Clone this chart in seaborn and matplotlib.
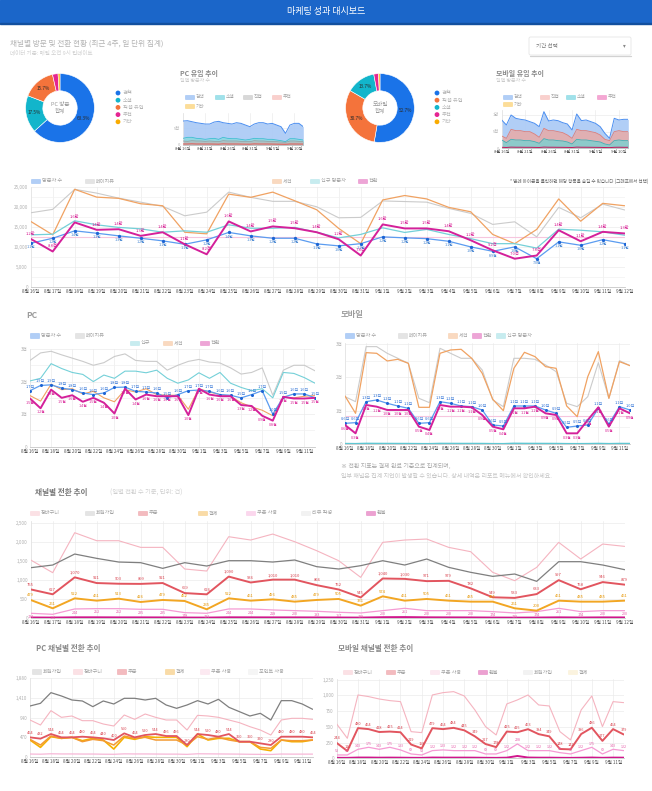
import numpy as np
import pandas as pd
import matplotlib
matplotlib.use("Agg")
import matplotlib.pyplot as plt
import seaborn as sns
from matplotlib.patches import Rectangle, FancyBboxPatch, Circle

sns.set_theme(style="white")
plt.rcParams["font.family"] = ["Noto Sans CJK KR", "DejaVu Sans"]
plt.rcParams["axes.unicode_minus"] = False

# ---------------- data ----------------
dates = ["8월 16일", "8월 17일", "8월 18일", "8월 19일", "8월 20일", "8월 21일", "8월 22일",
         "8월 23일", "8월 24일", "8월 25일", "8월 26일", "8월 27일", "8월 28일", "8월 29일",
         "8월 30일", "8월 31일", "9월 1일", "9월 2일", "9월 3일", "9월 4일", "9월 5일",
         "9월 6일", "9월 7일", "9월 8일", "9월 9일", "9월 10일", "9월 11일", "9월 12일"]

pc_share_labels = ["검색", "소셜", "직접 유입", "추천", "기타"]
pc_share = [63.3, 17.5, 15.7, 2.6, 0.9]
mo_share_labels = ["검색", "직접 유입", "소셜", "추천", "기타"]
mo_share = [52.7, 30.7, 13.7, 2.2, 0.7]

pc_area_total = [7200, 7300, 7000, 6700, 6500, 6300, 6300, 6900, 7100, 6700, 6500, 6300, 6700, 6500,
                 6000, 5500, 6300, 6700, 6700, 6300, 6500, 6000, 5500, 3500, 6000, 6500, 6500, 5500]
pc_area_social = [2000, 2300, 2300, 2000, 1900, 1700, 1900, 2000, 1700, 2300, 2000, 1900, 1900, 1700,
                  1500, 1700, 2000, 1900, 1900, 1700, 1700, 1500, 1300, 1000, 1900, 1900, 1700, 1500]
pc_area_direct = [1200, 1100, 1300, 1200, 1200, 1100, 1200, 1100, 1000, 1300, 1200, 1200, 1200, 1100,
                  1000, 1000, 1300, 1200, 1200, 1100, 1100, 1000, 900, 800, 1200, 1200, 1100, 1000]
pc_area_ref = [300, 300, 350, 300, 300, 300, 300, 280, 250, 350, 300, 300, 300, 280,
               260, 250, 330, 300, 300, 300, 280, 260, 240, 220, 300, 300, 290, 280]

mo_area_total = [8500, 7000, 10000, 9000, 8700, 8500, 8000, 7500, 6500, 11000, 8200, 8500, 8300, 7700,
                 7300, 5500, 10300, 8300, 8500, 8000, 7500, 6500, 4500, 3000, 9000, 8500, 8700, 8700]
mo_area_direct = [3700, 3000, 5700, 5300, 5300, 5000, 5000, 4300, 3300, 6000, 5300, 5300, 5000, 4700,
                  4000, 3000, 5700, 5300, 5300, 5000, 4700, 4000, 2700, 2300, 5000, 5300, 5000, 5000]
mo_area_social = [2500, 1700, 2700, 2500, 2500, 2300, 2300, 2000, 1500, 2900, 2500, 2500, 2300, 2200,
                  1900, 1300, 2700, 2500, 2500, 2300, 2100, 1900, 1300, 1000, 2300, 2500, 2300, 2300]
mo_area_ref = [300, 250, 350, 320, 320, 300, 300, 280, 250, 360, 320, 320, 300, 290,
               270, 240, 350, 320, 320, 300, 290, 270, 230, 200, 300, 320, 300, 300]

all_pageviews = [18500, 19350, 24350, 23400, 22150, 21150, 20100, 17750, 18650, 23650, 22350, 21350, 21350, 20000,
                 17250, 17350, 21450, 21300, 21150, 19600, 18350, 15600, 16250, 12500, 19850, 17250, 20650, 19200]
all_sessions = [16350, 13000, 24350, 22400, 22100, 20750, 20250, 13650, 13250, 23150, 22350, 23650, 21500, 19250,
                14600, 10800, 21700, 22800, 21950, 19850, 18750, 13100, 10800, 14350, 21950, 16400, 20850, 20250]
all_new = [13000, 13150, 16500, 15500, 14850, 14500, 13650, 14000, 13650, 15500, 14650, 14650, 14850, 13650,
           12250, 13100, 14750, 13600, 14350, 13100, 12050, 10800, 10800, 9700, 14400, 14150, 13750, 12900]
all_conv = [12000, 8850, 16100, 14250, 14400, 12750, 13650, 10650, 8150, 16350, 13850, 15100, 14650, 13650,
            11900, 7850, 15600, 14600, 14600, 13900, 11650, 9150, 7050, 7850, 14150, 11400, 13750, 13350]
all_visitors = [10900, 12150, 14000, 13400, 12750, 12150, 11500, 10650, 11750, 13600, 12750, 12150, 12150, 10750,
                10250, 10800, 12500, 12250, 12050, 11400, 10000, 8900, 10000, 7050, 11250, 10400, 11800, 10800]

pc_pageviews = [2650, 2880, 2930, 2820, 2720, 2620, 2500, 2580, 2770, 2850, 2650, 2620, 2620, 2350,
                2500, 2620, 2680, 2600, 2570, 2420, 2230, 2280, 2420, 1580, 2350, 2500, 2500, 2330]
pc_new = [2020, 2100, 2550, 2400, 2280, 2220, 2000, 2200, 2100, 2320, 2320, 2270, 2350, 2100,
          1950, 2050, 2270, 2100, 2280, 1950, 1820, 1720, 1780, 1500, 2280, 2250, 2120, 1950]
pc_visitors = [1720, 1880, 1900, 1800, 1750, 1650, 1600, 1650, 1820, 1830, 1700, 1680, 1650, 1500,
               1600, 1720, 1740, 1700, 1600, 1580, 1500, 1600, 1720, 1000, 1520, 1620, 1620, 1500]
pc_sessions = [1570, 1400, 1920, 1750, 1780, 1620, 1700, 1500, 1380, 1750, 1680, 1780, 1600, 1580,
               1580, 1150, 1780, 1680, 1600, 1550, 1350, 1220, 1120, 950, 1520, 1500, 1550, 1570]
pc_conv = [1480, 1180, 1750, 1500, 1580, 1380, 1500, 1350, 1020, 1780, 1450, 1600, 1550, 1550,
           1550, 970, 1780, 1600, 1550, 1550, 1280, 1250, 950, 800, 1530, 1480, 1480, 1500]

mo_pageviews = [1420, 1270, 2920, 2920, 2720, 2570, 2420, 1370, 1240, 2870, 2720, 2570, 2570, 2220,
                1320, 1120, 2570, 2570, 2540, 2370, 2170, 1220, 1120, 1420, 2440, 1370, 2500, 2350]
mo_sessions = [1440, 920, 2740, 2720, 2490, 2540, 2420, 1100, 1100, 2720, 2820, 2840, 2570, 2120,
               1340, 1000, 2270, 2750, 2620, 2320, 2270, 1140, 820, 2020, 2770, 1370, 2470, 2350]
mo_visitors = [620, 640, 1270, 1320, 1220, 1140, 1070, 620, 640, 1270, 1220, 1140, 1120, 1020,
               570, 540, 1140, 1140, 1140, 1020, 920, 500, 540, 570, 1070, 600, 1120, 1020]
mo_conv = [570, 320, 1170, 1120, 1020, 1020, 1020, 520, 420, 1170, 1120, 1120, 1100, 870,
           520, 440, 1070, 1070, 1120, 920, 870, 320, 320, 720, 1100, 520, 1070, 920]
mo_new = [15, 12, 20, 18, 17, 16, 15, 12, 11, 19, 18, 17, 17, 16,
          12, 11, 22, 19, 18, 17, 16, 12, 11, 13, 18, 12, 17, 16]

ch_cart = [1523, 1192, 2236, 2027, 2027, 1853, 1853, 1288, 1235, 2132, 2045, 2201, 2001, 1766,
           1505, 1070, 1984, 2045, 2071, 1853, 1740, 1201, 983, 1331, 1984, 1549, 1940, 1879]
ch_signup = [1322, 1392, 1679, 1566, 1470, 1453, 1305, 1453, 1366, 1505, 1505, 1470, 1523, 1349,
             1288, 1375, 1505, 1392, 1549, 1331, 1201, 1096, 1157, 966, 1479, 1479, 1392, 1270]
ch_order = [755, 627, 1070, 921, 903, 899, 921, 659, 626, 1090, 936, 1010, 1010, 866,
            752, 545, 1040, 1030, 971, 979, 782, 549, 533, 633, 997, 758, 946, 879]
ch_pay = [479, 261, 522, 461, 513, 426, 479, 452, 235, 522, 461, 496, 435, 479,
          505, 331, 574, 461, 505, 461, 435, 435, 261, 200, 461, 435, 435, 461]
ch_coupon = [131, 104, 244, 252, 252, 235, 235, 148, 131, 244, 244, 218, 200, 183,
             157, 139, 200, 261, 200, 200, 200, 174, 139, 174, 261, 174, 200, 200]
ch_refund = [18, 15, 22, 22, 20, 20, 19, 16, 15, 22, 21, 20, 20, 19,
             17, 15, 25, 28, 22, 20, 19, 16, 14, 16, 21, 17, 20, 19]

pcc_signup = [1216, 1280, 1536, 1456, 1360, 1336, 1200, 1336, 1264, 1400, 1400, 1360, 1400, 1240,
              1160, 1240, 1344, 1264, 1376, 1184, 1080, 976, 1040, 880, 1344, 1344, 1264, 1136]
pcc_cart = [880, 760, 1104, 944, 976, 864, 864, 784, 736, 1000, 896, 1024, 944, 880,
            880, 640, 992, 976, 944, 880, 816, 720, 640, 520, 880, 920, 920, 896]
pcc_order = [464, 432, 544, 464, 464, 480, 464, 440, 400, 560, 464, 520, 544, 496,
             496, 280, 544, 520, 480, 544, 360, 360, 320, 280, 480, 480, 480, 464]
pcc_pay = [416, 280, 496, 440, 464, 360, 416, 384, 280, 496, 440, 464, 400, 400,
           400, 280, 480, 416, 464, 400, 360, 360, 224, 200, 400, 384, 384, 400]
pcc_point = [400, 224, 480, 440, 464, 384, 440, 400, 184, 464, 416, 480, 464, 464,
             464, 240, 544, 400, 440, 440, 360, 360, 184, 144, 400, 360, 360, 400]
pcc_coupon = [64, 60, 70, 66, 66, 64, 64, 60, 58, 68, 66, 66, 64, 62,
              62, 56, 70, 68, 66, 64, 62, 58, 56, 54, 64, 62, 62, 62]

moc_cart = [546, 318, 1007, 981, 943, 917, 901, 424, 408, 1007, 1044, 1060, 991, 769,
            504, 371, 864, 928, 1007, 848, 832, 424, 292, 769, 991, 504, 901, 885]
moc_order = [244, 116, 480, 464, 418, 425, 414, 219, 158, 479, 464, 484, 445, 349,
             227, 178, 425, 415, 463, 384, 349, 148, 142, 386, 486, 277, 464, 379]
moc_coupon = [53, 53, 143, 175, 143, 175, 133, 69, 53, 122, 133, 122, 122, 122,
              69, 69, 122, 228, 122, 122, 122, 90, 69, 122, 175, 69, 143, 122]
moc_refund = [8, 7, 12, 12, 10, 11, 10, 8, 7, 12, 11, 11, 11, 10,
              8, 7, 10, 37, 12, 10, 10, 8, 7, 9, 12, 8, 11, 10]

# ---------------- colours ----------------
BLUE, CYAN, ORANGE, MAGENTA, GOLD = "#1a73e8", "#12b5cb", "#f4733b", "#e52592", "#f9ab00"
L_BLUE, L_GRAY, L_ORANGE, L_CYAN, L_MAG = "#3d86ea", "#cbcbcb", "#f0a262", "#74d0d8", "#d4209a"
R_PINK, R_GRAY, R_RED, R_ORANGE, R_PINK2, R_MAG = "#f5b4c0", "#7f7f7f", "#e2555f", "#f2a623", "#f59bd3", "#d0168c"

W, H = 652, 791
fig = plt.figure(figsize=(W / 100, H / 100), dpi=100)
fig.patch.set_facecolor("white")
ov = fig.add_axes([0, 0, 1, 1])
ov.set_xlim(0, W)
ov.set_ylim(H, 0)
ov.axis("off")
ov.set_zorder(0)

idx = np.arange(len(dates))


def ax_px(x0, y0, x1, y1):
    a = fig.add_axes([x0 / W, 1 - y1 / H, (x1 - x0) / W, (y1 - y0) / H])
    a.set_zorder(2)
    a.patch.set_alpha(0)
    return a


def legend(items, y, fs=3.7):
    for x, color, label in items:
        ov.add_patch(Rectangle((x, y - 2.4), 9, 4.8, facecolor=color, edgecolor=color, lw=0.4, alpha=0.4))
        ov.text(x + 11, y, label, fontsize=fs, color="#a3a3a3", va="center", ha="left")


def style(ax, ymax, yticks, ylabels, xstep, vstep=1, fs=3.3):
    ax.set_xlim(0, len(dates) - 1)
    ax.set_ylim(0, ymax)
    ax.set_xticks(range(0, len(dates), xstep))
    ax.set_xticklabels(dates[::xstep])
    ax.set_xticks(range(0, len(dates), vstep), minor=True)
    ax.set_yticks(yticks)
    ax.set_yticklabels(ylabels)
    ax.tick_params(axis="x", which="both", length=0, labelsize=fs, colors="#555555", pad=1.5)
    ax.tick_params(axis="y", length=0, labelsize=fs, colors="#b0b0b0", pad=2)
    ax.grid(True, axis="x", which="both", color="#ebebeb", lw=0.5)
    ax.grid(True, axis="y", which="major", color="#ebebeb", lw=0.5)
    for s in ["top", "right"]:
        ax.spines[s].set_visible(False)
    ax.spines["left"].set_color("#e2e2e2")
    ax.spines["left"].set_linewidth(0.5)
    ax.spines["bottom"].set_color("#c6c6c6")
    ax.spines["bottom"].set_linewidth(0.6)
    ax.set_xlabel("")
    ax.set_ylabel("")
    ax.set_axisbelow(True)


def line(ax, y, color, lw=0.8, marker=None, ms=0, mc=None, z=3):
    sns.lineplot(x=idx, y=y, ax=ax, color=color, linewidth=lw, marker=marker, markersize=ms,
                 markeredgewidth=0, markerfacecolor=mc or color, zorder=z, legend=False)


def labels(ax, y, fmt, color, dy=2.2, fs=3.0, va=None):
    if va is None:
        va = "bottom" if dy > 0 else ("top" if dy < 0 else "center")
    for i, v in enumerate(y):
        ax.annotate(fmt(v), (i, v), xytext=(0, dy), textcoords="offset points", ha="center",
                    va=va, fontsize=fs, color=color, zorder=6)


man = lambda v: f"{v / 10000:.1f}만" if v >= 10000 else f"{v / 1000:.1f}천"
chun = lambda v: f"{v / 1000:.1f}천"
num = lambda v: f"{v:,.0f}"

# ---------------- header ----------------
ov.add_patch(Rectangle((0, 0), W, 23, color="#1b66c9"))
ov.add_patch(Rectangle((0, 23), W, 1.2, color="#124f9e"))
ov.text(W / 2, 11.5, "마케팅 성과 대시보드", color="white", fontsize=6.5, ha="center", va="center")
ov.text(10, 44, "채널별 방문 및 전환 현황 (최근 4주, 일 단위 집계)", fontsize=5.5, color="#b3b3b3", va="center")
ov.text(10, 52.5, "데이터 기준: 매일 오전 9시 업데이트", fontsize=4, color="#d0d0d0", va="center")
ov.add_patch(FancyBboxPatch((529, 37), 102, 18, boxstyle="round,pad=0,rounding_size=1.5",
                            facecolor="white", edgecolor="#e6e6e6", lw=0.6))
ov.plot([529.5, 630.5], [55.6, 55.6], color="#d2d2d2", lw=0.9)
ov.text(536, 46, "기간 선택", fontsize=4, color="#777777", va="center")
ov.text(624, 46, "▾", fontsize=4, color="#888888", va="center", ha="center")

# ---------------- row 1: donuts + area ----------------
def donut(x0, y0, x1, y1, shares, colors, names, legx, center):
    a = ax_px(x0, y0, x1, y1)
    a.pie(shares, colors=colors, startangle=90, counterclock=False,
          wedgeprops=dict(width=0.5, edgecolor="white", linewidth=0.4),
          autopct=lambda p: f"{p:.1f}%" if p > 5 else "", pctdistance=0.75,
          textprops=dict(fontsize=3.4, color="#2b2b2b"))
    a.set_aspect("equal")
    a.text(0, 0, center, ha="center", va="center", fontsize=4, color="#9a9a9a")
    for k, (c, n) in enumerate(zip(colors, names)):
        yy = 93 + k * 7.2
        ov.add_patch(Circle((legx, yy), 1.7, color=c))
        ov.text(legx + 5, yy, n, fontsize=3.8, color="#b5b5b5", va="center")


donut(17, 65, 103, 151, pc_share, [BLUE, CYAN, ORANGE, MAGENTA, GOLD], pc_share_labels, 118, "PC 방문\n합계")
donut(337, 65, 423, 151, mo_share, [BLUE, ORANGE, CYAN, MAGENTA, GOLD], mo_share_labels, 437, "모바일\n합계")

ov.text(180, 73.5, "PC 유입 추이", fontsize=5, color="#8a8a8a", va="center", weight="bold")
ov.text(180, 80.5, "일별 방문자 수", fontsize=3.6, color="#cccccc", va="center")
legend([(185, L_BLUE, "검색"), (215, CYAN, "소셜"), (243, "#9e9e9e", "직접"), (272, "#f28b82", "추천")], 97, fs=3.4)
legend([(185, GOLD, "기타")], 106, fs=3.4)
a = ax_px(183, 112.7, 303.3, 145)
a.fill_between(idx, 0, pc_area_total, color="#a9c9f6", alpha=0.9, lw=0)
line(a, pc_area_total, "#4a8ef0", lw=0.7)
a.fill_between(idx, 0, pc_area_social, color="#8fd9df", alpha=0.9, lw=0)
line(a, pc_area_social, "#3cc0cf", lw=0.6)
a.fill_between(idx, 0, pc_area_direct, color="#b9b9b9", alpha=0.8, lw=0)
line(a, pc_area_direct, "#9a9a9a", lw=0.5)
line(a, pc_area_ref, "#e8554e", lw=0.7)
style(a, 9700, [0, 5000], ["0", "5천"], 5, 5, fs=3.0)

ov.text(496, 73.5, "모바일 유입 추이", fontsize=5, color="#8a8a8a", va="center", weight="bold")
ov.text(496, 80.5, "일별 방문자 수", fontsize=3.6, color="#cccccc", va="center")
legend([(503, L_BLUE, "검색"), (540, "#f28b82", "직접"), (566, CYAN, "소셜"), (597, MAGENTA, "추천")], 97, fs=3.4)
legend([(503, GOLD, "기타")], 104, fs=3.4)
a = ax_px(501.7, 110, 628.3, 148.3)
a.fill_between(idx, 0, mo_area_total, color="#a9c9f6", alpha=0.9, lw=0)
line(a, mo_area_total, "#4a8ef0", lw=0.7)
a.fill_between(idx, 0, mo_area_direct, color="#e9aaa6", alpha=0.85, lw=0)
line(a, mo_area_direct, "#e07d76", lw=0.6)
a.fill_between(idx, 0, mo_area_social, color="#7fcfcf", alpha=0.85, lw=0)
line(a, mo_area_social, "#3bb3b8", lw=0.6)
line(a, mo_area_ref, "#c2185b", lw=0.7)
style(a, 11500, [0, 5000, 10000], ["0", "5천", "1만"], 5, 5, fs=3.0)

# ---------------- row 2: big chart ----------------
legend([(31, L_BLUE, "방문자 수"), (85, "#bdbdbd", "페이지뷰"), (272, L_ORANGE, "세션"),
        (310, L_CYAN, "신규 방문자"), (358, L_MAG, "전환")], 181)
ov.text(648, 181, "* 범례 아이콘을 클릭하면 해당 항목을 숨길 수 있습니다 (그래프에서 선택)",
        fontsize=3.3, color="#666666", va="center", ha="right")
a = ax_px(30.7, 186.7, 624.7, 287)
a.axhline(np.mean(all_conv), color="#f6c6de", lw=0.8, zorder=1)
line(a, all_pageviews, L_GRAY, lw=0.8)
line(a, all_sessions, L_ORANGE, lw=0.9)
line(a, all_new, L_CYAN, lw=0.9)
line(a, all_visitors, "#5b9cf0", lw=0.9, marker="o", ms=2.4, mc="#1c64d4")
line(a, all_conv, L_MAG, lw=1.4, z=4)
labels(a, all_conv, man, "#d81b93", dy=2.2)
labels(a, all_visitors, man, "#3a7fd0", dy=-1.6, fs=2.7)
style(a, 25000, [0, 5000, 10000, 15000, 20000, 25000], ["0", "5,000", "10,000", "15,000", "20,000", "25,000"], 1)
a.set_yticks([2500, 7500, 12500, 17500, 22500], minor=True)
a.grid(True, axis="y", which="minor", color="#f1f1f1", lw=0.5)

# ---------------- row 3 ----------------
ov.text(26, 315, "PC", fontsize=6, color="#9c9c9c", va="center", weight="bold")
legend([(30, L_BLUE, "방문자 수"), (75, "#bdbdbd", "페이지뷰")], 335.5)
legend([(130, L_CYAN, "신규"), (163, L_ORANGE, "세션"), (200, L_MAG, "전환")], 343)
a = ax_px(30, 349, 315, 446.7)
line(a, pc_pageviews, L_GRAY, lw=0.8)
line(a, pc_new, L_CYAN, lw=0.8)
line(a, pc_sessions, L_ORANGE, lw=0.8)
line(a, pc_visitors, "#5b9cf0", lw=0.9, marker="o", ms=2.2, mc="#1c64d4")
line(a, pc_conv, L_MAG, lw=1.4, z=4)
labels(a, pc_visitors, chun, "#2a6fd6", dy=1.5, fs=2.8)
labels(a, pc_conv, chun, "#d81b93", dy=-1.6, fs=2.7)
style(a, 3000, [0, 1000, 2000, 3000], ["0", "1천", "2천", "3천"], 2, 2)
a.set_yticks([500, 1500, 2500], minor=True)
a.grid(True, axis="y", which="minor", color="#f0f0f0", lw=0.5)

ov.text(341, 315, "모바일", fontsize=6, color="#9c9c9c", va="center", weight="bold")
legend([(345, L_BLUE, "방문자 수"), (398, "#bdbdbd", "페이지뷰"), (448, L_ORANGE, "세션"),
        (472, L_MAG, "전환"), (496, L_CYAN, "신규 방문자")], 335.5)
a = ax_px(345, 343.3, 630, 444)
a.axhline(np.mean(mo_conv), color="#f6c6de", lw=0.8, zorder=1)
line(a, mo_pageviews, L_GRAY, lw=0.8)
line(a, mo_sessions, L_ORANGE, lw=0.9)
line(a, mo_new, "#5fc7d2", lw=1.0)
line(a, mo_visitors, "#5b9cf0", lw=0.9, marker="o", ms=2.2, mc="#1c64d4")
line(a, mo_conv, L_MAG, lw=1.4, z=4)
labels(a, mo_visitors, chun, "#2a6fd6", dy=1.5, fs=2.8)
labels(a, mo_conv, chun, "#d81b93", dy=-1.6, fs=2.7)
style(a, 3020, [0, 1000, 2000, 3000], ["0", "1천", "2천", "3천"], 2, 2)
a.set_yticks([500, 1500, 2500], minor=True)
a.grid(True, axis="y", which="minor", color="#f0f0f0", lw=0.5)

# ---------------- row 4 ----------------
ov.text(341, 466, "※ 전환 지표는 결제 완료 기준으로 집계되며,", fontsize=4.3, color="#a9a9a9", va="center")
ov.text(341, 476, "일부 채널은 집계 지연이 발생할 수 있습니다. 상세 내역은 리포트 메뉴에서 확인하세요.",
        fontsize=4.3, color="#c4c4c4", va="center")
ov.text(35, 493, "채널별 전환 추이", fontsize=5.5, color="#7a7a7a", va="center", weight="bold")
ov.text(110, 493, "(일별 전환 수 기준, 단위: 건)", fontsize=4.5, color="#cfcfcf", va="center")
legend([(30, R_PINK, "장바구니"), (85, "#bdbdbd", "회원가입"), (138, R_RED, "주문"),
        (198, R_ORANGE, "결제"), (246, R_PINK2, "쿠폰 사용"), (301, "#e0e0e0", "리뷰 작성"),
        (366, R_MAG, "환불")], 513)
a = ax_px(30.7, 520.7, 624.7, 618.3)
line(a, ch_cart, R_PINK, lw=0.8)
line(a, ch_signup, R_GRAY, lw=0.9)
line(a, ch_order, R_RED, lw=1.4, z=4)
line(a, ch_pay, R_ORANGE, lw=1.4, z=4)
line(a, ch_coupon, R_PINK2, lw=0.9)
line(a, ch_refund, R_MAG, lw=1.6)
labels(a, ch_order, num, "#d9434f", dy=2.0)
labels(a, ch_pay, num, "#e69500", dy=2.0)
labels(a, ch_coupon, num, "#e65aa8", dy=-1.2, fs=2.7)
style(a, 2550, [0, 500, 1000, 1500, 2000, 2500], ["0", "500", "1,000", "1,500", "2,000", "2,500"], 1)

# ---------------- row 5 ----------------
ov.text(36, 648, "PC 채널별 전환 추이", fontsize=5.5, color="#8a8a8a", va="center", weight="bold")
legend([(32, "#bdbdbd", "회원가입"), (73, R_PINK, "장바구니"), (117, R_RED, "주문"),
        (165, R_ORANGE, "결제"), (200, "#f8c9dd", "쿠폰 사용"), (248, "#e8e8e8", "포인트 사용")], 671.7)
a = ax_px(30, 678.3, 312.7, 756.7)
line(a, pcc_signup, R_GRAY, lw=0.9)
line(a, pcc_cart, R_PINK, lw=0.8)
line(a, pcc_coupon, "#f7b7d7", lw=0.9)
line(a, pcc_point, "#f5b000", lw=1.2)
line(a, pcc_pay, "#f39a33", lw=1.1)
line(a, pcc_order, R_RED, lw=1.3, z=4)
labels(a, pcc_order, num, "#d9434f", dy=1.8, fs=2.8)
style(a, 1880, [0, 470, 940, 1410, 1880], ["0", "470", "940", "1,410", "1,880"], 2, 2)

ov.text(338, 648, "모바일 채널별 전환 추이", fontsize=5.5, color="#8a8a8a", va="center", weight="bold")
legend([(343, R_PINK, "장바구니"), (386, R_RED, "주문"), (430, "#f8c9dd", "쿠폰 사용"),
        (478, R_MAG, "환불"), (523, "#e0e0e0", "회원가입"), (568, "#f7e3b0", "결제")], 672)
a = ax_px(336.7, 679.3, 623.7, 758.3)
line(a, moc_cart, R_PINK, lw=0.8)
line(a, moc_order, R_RED, lw=1.4, z=4)
line(a, moc_coupon, R_PINK2, lw=0.9)
line(a, moc_refund, R_MAG, lw=1.4)
labels(a, moc_order, num, "#d9434f", dy=1.8, fs=2.8)
labels(a, moc_coupon, num, "#e65aa8", dy=1.2, fs=2.6)
style(a, 1256, [0, 250, 500, 750, 1000, 1250], ["0", "250", "500", "750", "1,000", "1,250"], 2, 2)

fig.savefig("out.png", dpi=100, facecolor="white")
